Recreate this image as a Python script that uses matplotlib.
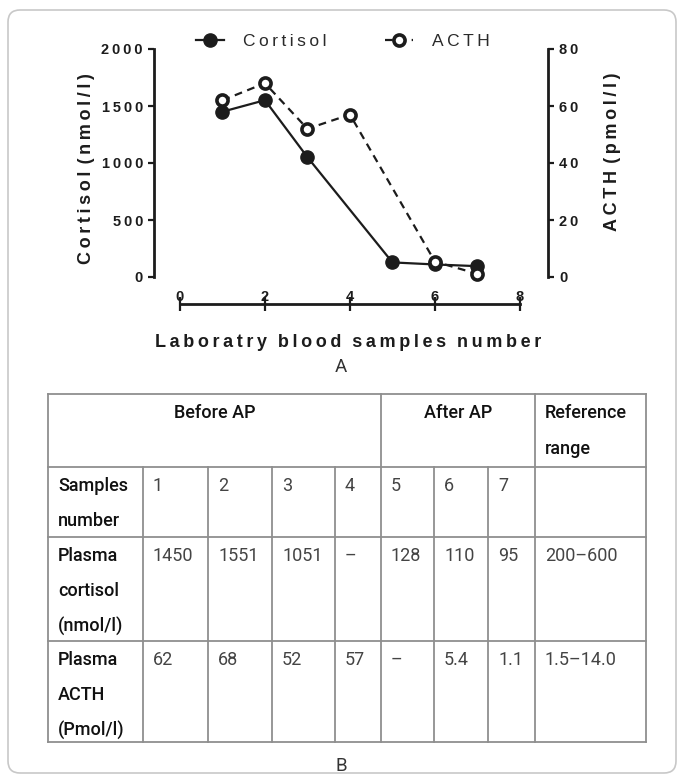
import matplotlib
matplotlib.use("Agg")
import matplotlib.pyplot as plt
from matplotlib.ticker import FuncFormatter
from matplotlib.patches import FancyBboxPatch

# table / chart data (None = not measured)
samples = [1, 2, 3, 4, 5, 6, 7]
cortisol = [1450, 1551, 1051, None, 128, 110, 95]
acth = [62, 68, 52, 57, None, 5.4, 1.1]
cortisol_ref = "200–600"
acth_ref = "1.5–14.0"

group_labels = ["Before AP", "After AP"]
row_labels = [["Samples", "number"],
              ["Plasma", "cortisol", "(nmol/l)"],
              ["Plasma", "ACTH", "(Pmol/l)"]]

INK = "#1c1c1c"
THIN = "\u2009"


def spaced(s, sep=" ", word_sep="   "):
    return word_sep.join(sep.join(w) for w in s.split(" "))


def fmt(v):
    if v is None:
        return "–"
    return str(v)


W, H = 684, 774
fig = plt.figure(figsize=(W / 100, H / 100), dpi=100)
plt.rcParams['font.family'] = ['Liberation Sans', 'DejaVu Sans']

# ---- chart (panel A) ----
ax_l, ax_r, ax_t, ax_b = 154, 548, 49, 277
ax = fig.add_axes([ax_l / W, 1 - ax_b / H, (ax_r - ax_l) / W, (ax_b - ax_t) / H])
ax.patch.set_visible(False)
ax2 = ax.twinx()

cx = [s for s, v in zip(samples, cortisol) if v is not None]
cy = [v for v in cortisol if v is not None]
axx = [s for s, v in zip(samples, acth) if v is not None]
axy = [v for v in acth if v is not None]

ax.plot(cx, cy, color=INK, lw=1.6, marker='o', ms=9.5, mfc=INK, mec=INK,
        clip_on=False, zorder=3, label=spaced("Cortisol", THIN))
ax2.plot(axx, axy, color=INK, lw=1.6, ls=(0, (3.5, 2.5)), marker='o', ms=8,
         mfc='white', mec=INK, mew=2.6, clip_on=False, zorder=3,
         label=spaced("ACTH", THIN))

ax.set_xlim(-0.61, 8.66)
ax.set_ylim(0, 2000)
ax2.set_ylim(0, 80)
ax.set_xticks([0, 2, 4, 6, 8])
ax.set_yticks([0, 500, 1000, 1500, 2000])
ax2.set_yticks([0, 20, 40, 60, 80])

digits = FuncFormatter(lambda v, p: THIN.join(str(int(v))))
ax.yaxis.set_major_formatter(digits)
ax2.yaxis.set_major_formatter(digits)

for a in (ax, ax2):
    for side in ("top", "left", "right", "bottom"):
        a.spines[side].set_visible(False)
ax.spines["left"].set_visible(True)
ax.spines["bottom"].set_visible(True)
ax2.spines["right"].set_visible(True)
for sp in (ax.spines["left"], ax.spines["bottom"], ax2.spines["right"]):
    sp.set_linewidth(2)
    sp.set_color(INK)
ax.spines["bottom"].set_position(("outward", 19.4))
ax.spines["bottom"].set_bounds(0, 8)

ax.tick_params(axis='y', length=4.5, width=1.6, pad=3.5, color=INK, labelcolor=INK, labelsize=10.5)
ax2.tick_params(axis='y', length=4.5, width=1.6, pad=3.5, color=INK, labelcolor=INK, labelsize=10.5)
ax.tick_params(axis='x', direction='inout', length=10, width=1.6, pad=-15, color=INK,
               labelcolor=INK, labelsize=10.5)
for lab in ax.get_xticklabels() + ax.get_yticklabels() + ax2.get_yticklabels():
    lab.set_fontweight('bold')

ax.set_ylabel(spaced("Cortisol (nmol/l)", THIN, THIN * 2), fontsize=13, fontweight='bold', color=INK)
ax.yaxis.set_label_coords((95 - ax_l) / (ax_r - ax_l), (ax_b - 169) / (ax_b - ax_t))
ax2.set_ylabel(spaced("ACTH (pmol/l)", THIN, THIN * 2), fontsize=13, fontweight='bold', color=INK)
ax2.yaxis.set_label_coords((604 - ax_l) / (ax_r - ax_l), (ax_b - 152) / (ax_b - ax_t))
ax.set_xlabel(spaced("Laboratry blood samples number", THIN, THIN * 3),
              fontsize=13, fontweight='bold', color=INK)
ax.xaxis.set_label_coords((348.5 - ax_l) / (ax_r - ax_l), (ax_b - 334) / (ax_b - ax_t))

h1, l1 = ax.get_legend_handles_labels()
h2, l2 = ax2.get_legend_handles_labels()
fig.legend(h1 + h2, l1 + l2, ncol=2, frameon=False, loc='center',
           bbox_to_anchor=(343 / W, 1 - 41 / H), fontsize=12.5,
           handlelength=1.6, handletextpad=1.1, columnspacing=3.4,
           labelcolor="#2a2a2a")

# ---- overlay in pixel coordinates: frame, panel letters, table (panel B) ----
ov = fig.add_axes([0, 0, 1, 1])
ov.set_xlim(0, W)
ov.set_ylim(H, 0)
ov.axis('off')

ov.add_patch(FancyBboxPatch((8, 10), 668, 763, boxstyle="round,pad=0,rounding_size=12",
                            fc='none', ec='#c8c8c8', lw=1.2))
letter_font = dict(family='Roboto', fontsize=13.5, color='#333333', fontweight='normal',
                   ha='center', va='center')
ov.text(341, 367, "A", **letter_font)
ov.text(341, 766, "B", **letter_font)

col_x = [48, 143, 208, 272, 335, 381, 434, 488, 535, 646]
row_y = [394, 467, 537, 641, 742]
line_gap = 35.5
first = 19
grid = dict(color='#8f8f8f', lw=1.3)

# horizontal rules
for y in row_y:
    ov.plot([col_x[0], col_x[-1]], [y, y], **grid)
# vertical rules: full height on the group borders, below header for the rest
for i, x in enumerate(col_x):
    top = row_y[0] if i in (0, 5, 8, 9) else row_y[1]
    ov.plot([x, x], [top, row_y[-1]], **grid)

head = dict(family='Roboto', fontsize=13, fontweight='medium', color='#111111', va='center')
cell = dict(family='Roboto', fontsize=13, fontweight='normal', color='#444444', va='center')
pad = 10

ov.text((col_x[0] + col_x[5]) / 2, row_y[0] + first, group_labels[0], ha='center', **head)
ov.text((col_x[5] + col_x[8]) / 2, row_y[0] + first, group_labels[1], ha='center', **head)
for k, w in enumerate(["Reference", "range"]):
    ov.text(col_x[8] + pad, row_y[0] + first + k * line_gap, w, ha='left', **head)

for r, lines in enumerate(row_labels):
    for k, w in enumerate(lines):
        ov.text(col_x[0] + pad, row_y[r + 1] + first + k * line_gap, w, ha='left', **head)

rows = [[str(s) for s in samples] + [""],
        [fmt(v) for v in cortisol] + [cortisol_ref],
        [fmt(v) for v in acth] + [acth_ref]]
for r, vals in enumerate(rows):
    for c, v in enumerate(vals):
        ov.text(col_x[c + 1] + pad, row_y[r + 1] + first, v, ha='left', **cell)

fig.savefig("out.png", dpi=100)
